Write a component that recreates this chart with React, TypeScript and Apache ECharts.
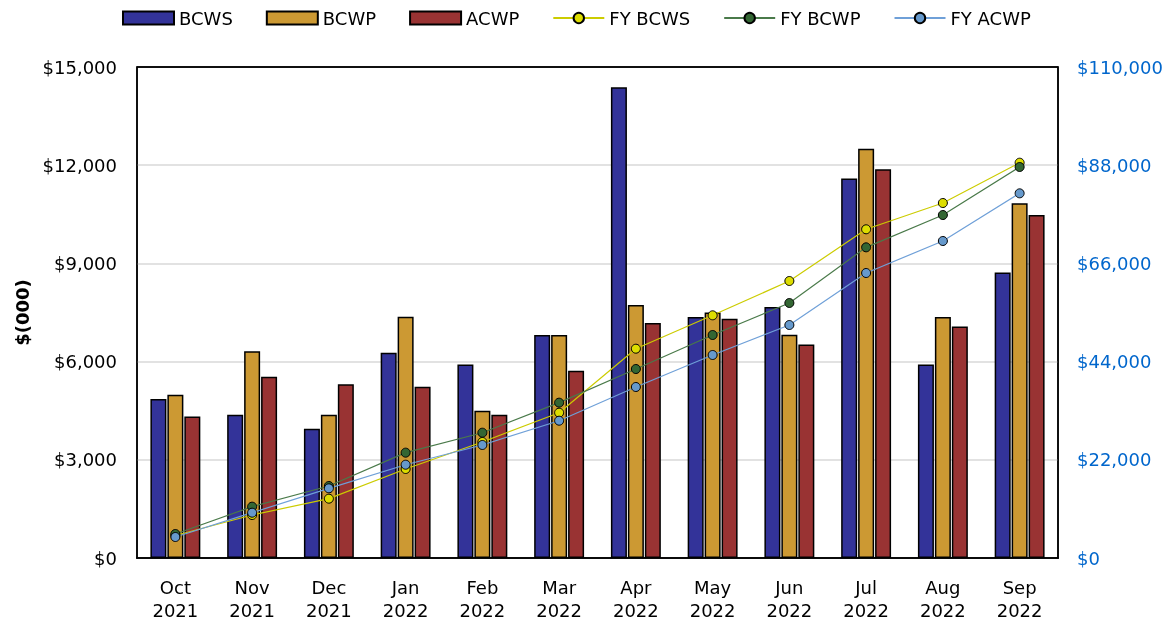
import React, { useEffect, useRef } from "react";
import * as echarts from "echarts";

const months = ["Oct\n2021", "Nov\n2021", "Dec\n2021", "Jan\n2022", "Feb\n2022", "Mar\n2022", "Apr\n2022", "May\n2022", "Jun\n2022", "Jul\n2022", "Aug\n2022", "Sep\n2022"];
const bcws = [4860, 4380, 3950, 6270, 5910, 6810, 14380, 7360, 7670, 11590, 5910, 8720];
const bcwp = [4990, 6320, 4380, 7370, 4500, 6810, 7730, 7500, 6820, 12500, 7360, 10840];
const acwp = [4320, 5540, 5310, 5230, 4380, 5720, 7180, 7310, 6520, 11880, 7070, 10480];
const fyBcws = [5040, 9630, 13290, 19940, 25990, 32550, 46890, 54370, 62060, 73640, 79530, 88560];
const fyBcwp = [5380, 11500, 16130, 23600, 28070, 34800, 42340, 49960, 57130, 69600, 76840, 87600];
const fyAcwp = [4700, 10150, 15610, 20900, 25320, 30760, 38310, 45480, 52200, 63850, 71020, 81700];

const FONT = "DejaVu Sans";
const money = (v: number) => "$" + v.toLocaleString("en-US");

export default function App() {
  const ref = useRef<HTMLDivElement>(null);
  useEffect(() => {
    if (!ref.current) return;
    const chart = echarts.init(ref.current, undefined, { renderer: "svg" });
    const barStyle = (c: string) => ({ color: c, borderColor: "#000", borderWidth: 1.5 });
    const lineSeries = (name: string, data: number[], lineColor: string, markColor: string) => ({
      name,
      type: "line",
      yAxisIndex: 1,
      data,
      symbol: "circle",
      symbolSize: 9,
      lineStyle: { color: lineColor, width: 1.2 },
      itemStyle: { color: markColor, borderColor: "#000", borderWidth: 1 },
      z: 5,
    });
    chart.setOption({
      animation: false,
      textStyle: { fontFamily: FONT },
      legend: {
        top: 9,
        left: 122,
        padding: 0,
        itemWidth: 51,
        itemHeight: 13,
        itemGap: 33,
        textStyle: { fontFamily: FONT, fontSize: 18, color: "#000" },
        data: [
          { name: "BCWS", icon: "rect" },
          { name: "BCWP", icon: "rect" },
          { name: "ACWP", icon: "rect" },
          "FY BCWS",
          "FY BCWP",
          "FY ACWP",
        ],
      },
      grid: { left: 137, right: 114, top: 67, bottom: 69, show: true, borderColor: "#000", borderWidth: 1.5, backgroundColor: "transparent" },
      xAxis: [
        {
          type: "category",
          data: months,
          axisTick: { show: false },
          axisLine: { lineStyle: { color: "#000", width: 1.5 } },
          axisLabel: { fontFamily: FONT, fontSize: 18, color: "#000", lineHeight: 23, margin: 18 },
        },
        {
          type: "category",
          position: "top",
          data: months,
          z: 10,
          axisTick: { show: false },
          axisLabel: { show: false },
          axisLine: { show: true, lineStyle: { color: "#000", width: 1.5 } },
          splitLine: { show: false },
        },
      ],
      yAxis: [
        {
          type: "value",
          min: 0,
          max: 15000,
          interval: 3000,
          name: "$(000)",
          nameLocation: "middle",
          nameGap: 102,
          nameTextStyle: { fontFamily: FONT, fontSize: 18, fontWeight: "bold", color: "#000" },
          axisLine: { show: true, lineStyle: { color: "#000", width: 1.5 } },
          axisLabel: { fontFamily: FONT, fontSize: 18, color: "#000", formatter: money, margin: 20 },
          splitLine: { lineStyle: { color: ["#d9d9d9", "#d9d9d9", "#d9d9d9", "#d9d9d9", "#d9d9d9", "#000"], width: 1.5 } },
        },
        {
          type: "value",
          min: 0,
          max: 110000,
          interval: 22000,
          position: "right",
          axisLine: { show: true, lineStyle: { color: "#000", width: 1.5 } },
          axisLabel: { fontFamily: FONT, fontSize: 18, color: "#0066cc", formatter: money, margin: 19 },
          splitLine: { show: false },
        },
      ],
      series: [
        { name: "BCWS", type: "bar", data: bcws, barWidth: 16, barGap: "6%", itemStyle: barStyle("#333399") },
        { name: "BCWP", type: "bar", data: bcwp, barWidth: 16, barGap: "6%", itemStyle: barStyle("#cc9933") },
        { name: "ACWP", type: "bar", data: acwp, barWidth: 16, barGap: "6%", itemStyle: barStyle("#993333") },
        lineSeries("FY BCWS", fyBcws, "#cccc00", "#dddd00"),
        lineSeries("FY BCWP", fyBcwp, "#4a7a4a", "#336633"),
        lineSeries("FY ACWP", fyAcwp, "#6fa0d8", "#6699cc"),
      ],
    });
    return () => chart.dispose();
  }, []);
  return <div ref={ref} style={{ position: "fixed", left: 0, top: 0, width: 1172, height: 627 }} />;
}
